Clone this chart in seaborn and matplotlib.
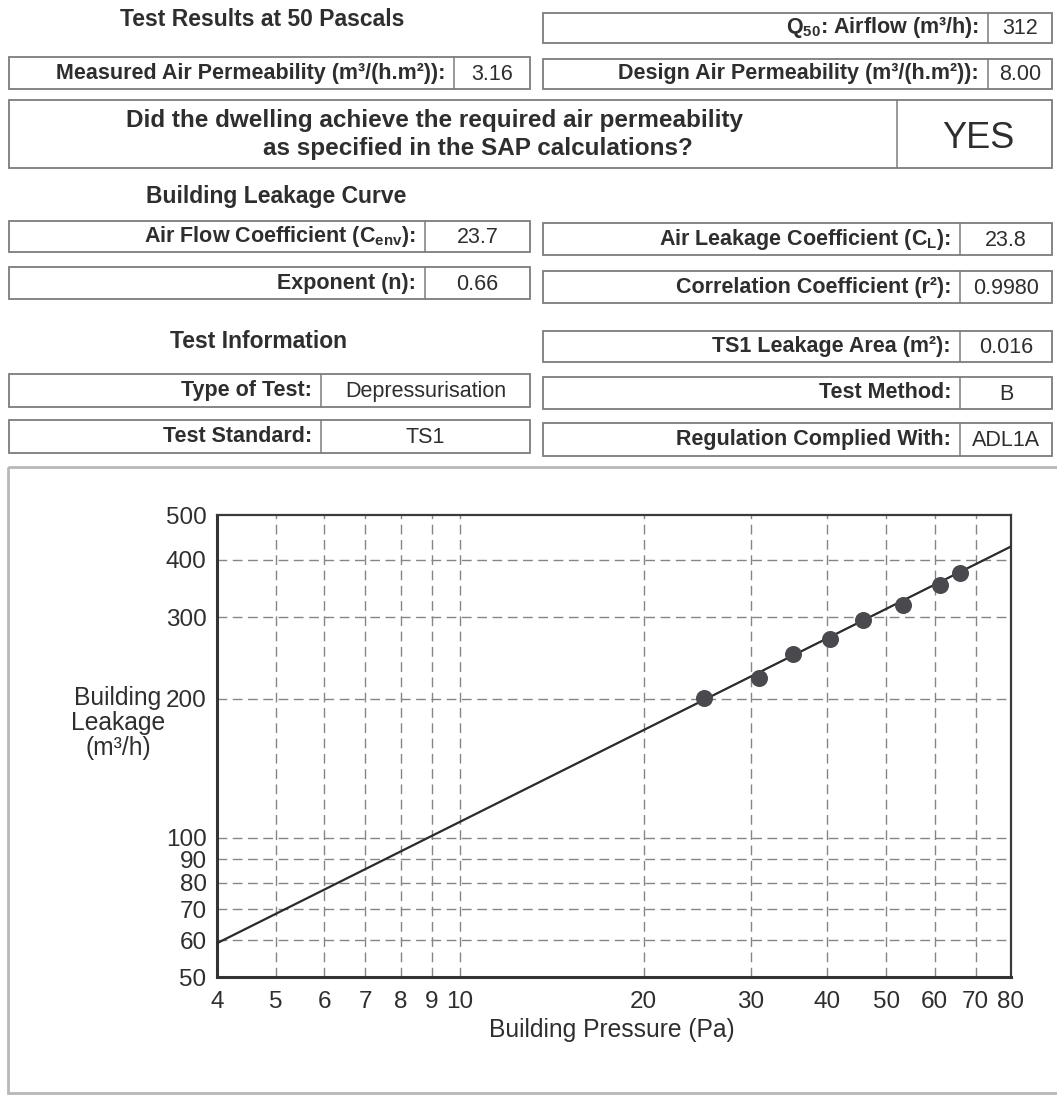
import numpy as np
import pandas as pd
import matplotlib
matplotlib.use("Agg")
import matplotlib.pyplot as plt
from matplotlib.patches import Rectangle
from matplotlib.ticker import FixedLocator, FixedFormatter, NullLocator
import seaborn as sns

# ---- measured leakage points ----
pressure_pa = [25.1, 30.9, 35.2, 40.4, 45.7, 53.3, 61.1, 66.1]
flow_m3h = [201, 222, 250, 269, 296, 320, 352, 375]

# ---- fitted leakage curve Q = C_env * P^n ----
c_env = 23.7
exponent_n = 0.66
curve_span_pa = [4, 80]

# ---- axis ticks ----
x_ticks = [4, 5, 6, 7, 8, 9, 10, 20, 30, 40, 50, 60, 70, 80]
y_ticks = [50, 60, 70, 80, 90, 100, 200, 300, 400, 500]
x_grid = [5, 6, 7, 8, 9, 10, 20, 30, 40, 50, 60, 70]
y_grid = [60, 70, 80, 90, 100, 200, 300, 400]

# ---- report headings and fields ----
headings = ["Test Results at 50 Pascals", "Building Leakage Curve", "Test Information"]
field_labels = [
    "Q$_{\\mathrm{50}}$: Airflow (m³/h):",
    "Measured Air Permeability (m³/(h.m²)):",
    "Design Air Permeability (m³/(h.m²)):",
    "Air Flow Coefficient (C$_{\\mathrm{env}}$):",
    "Air Leakage Coefficient (C$_{\\mathrm{L}}$):",
    "Exponent (n):",
    "Correlation Coefficient (r²):",
    "TS1 Leakage Area (m²):",
    "Type of Test:",
    "Test Method:",
    "Test Standard:",
    "Regulation Complied With:",
]
field_values = ["312", "3.16", "8.00", "23.7", "23.8", "0.66", "0.9980",
                "0.016", "Depressurisation", "B", "TS1", "ADL1A"]
question_lines = ["Did the dwelling achieve the required air permeability",
                  "as specified in the SAP calculations?"]
answer = "YES"
x_label = "Building Pressure (Pa)"
y_label = "Building\nLeakage\n(m³/h)"

# ---- styling ----
sns.set_theme(style="white")
plt.rcParams["font.family"] = ["Liberation Sans", "DejaVu Sans"]
plt.rcParams["mathtext.fontset"] = "custom"
plt.rcParams["mathtext.rm"] = "Liberation Sans:bold"
plt.rcParams["mathtext.it"] = "Liberation Sans:bold"
plt.rcParams["mathtext.bf"] = "Liberation Sans:bold"

INK = "#2e2e2e"
EDGE = "#7c7c7c"
W, H = 1057, 1095

fig = plt.figure(figsize=(W / 100, H / 100), dpi=100)
fig.patch.set_facecolor("white")

# full-page layer in pixel coordinates for the report boxes
page = fig.add_axes([0, 0, 1, 1], zorder=0)
page.set_xlim(0, W)
page.set_ylim(H, 0)
page.axis("off")


def field_box(x0, y0, x1, y1, div, label, value, vsize=15.5):
    page.add_patch(Rectangle((x0, y0), x1 - x0, y1 - y0, fill=False,
                             ec=EDGE, lw=1.3))
    page.plot([div, div], [y0, y1], color=EDGE, lw=1.1)
    yc = (y0 + y1) / 2
    page.text(div - 9, yc, label, ha="right", va="center", fontsize=15.5,
              fontweight="bold", color=INK)
    page.text((div + x1) / 2, yc + 1, value, ha="center", va="center",
              fontsize=vsize, color=INK)


# section headings
page.text(262, 19, headings[0], ha="center", va="center", fontsize=16.5,
          fontweight="bold", color=INK)
page.text(276, 196, headings[1], ha="center", va="center", fontsize=16.5,
          fontweight="bold", color=INK)
page.text(259, 341, headings[2], ha="center", va="center", fontsize=16.5,
          fontweight="bold", color=INK)

L0, L1 = 9, 530
R0, R1 = 543, 1052
boxes = [
    (R0, 13, R1, 43, 988),
    (L0, 57, L1, 89, 454),
    (R0, 59, R1, 89, 988),
    (L0, 221, L1, 252, 425),
    (R0, 223, R1, 255, 960),
    (L0, 267, L1, 299, 425),
    (R0, 271, R1, 303, 960),
    (R0, 331, R1, 362, 960),
    (L0, 374, L1, 407, 321),
    (R0, 377, R1, 409, 960),
    (L0, 420, L1, 453, 321),
    (R0, 423, R1, 456, 960),
]
for (x0, y0, x1, y1, div), lab, val in zip(boxes, field_labels, field_values):
    field_box(x0, y0, x1, y1, div, lab, val)

# compliance question
page.add_patch(Rectangle((L0, 100), R1 - L0, 68, fill=False, ec=EDGE, lw=1.3))
page.plot([897, 897], [100, 168], color=EDGE, lw=1.1)
page.text(435, 121, question_lines[0], ha="center", va="center",
          fontsize=17.5, fontweight="bold", color=INK)
page.text(478, 148, question_lines[1], ha="center", va="center",
          fontsize=17.5, fontweight="bold", color=INK)
page.text(978, 138, answer, ha="center", va="center", fontsize=26, color=INK)

# frame around the chart area
page.add_patch(Rectangle((8, 467), 1060, 626, fill=False, ec="#b8b8b8", lw=2))

# ---- leakage chart ----
ax_l, ax_r, ax_t, ax_b = 217, 1011, 515, 977
ax = fig.add_axes([ax_l / W, (H - ax_b) / H, (ax_r - ax_l) / W, (ax_b - ax_t) / H],
                  zorder=2)
ax.set_facecolor("none")
ax.set_xscale("log")
ax.set_yscale("log")
ax.set_xlim(4, 80)
ax.set_ylim(50, 500)

for gx in x_grid:
    ax.axvline(gx, color="#858585", lw=1.0, ls=(0, (7, 4)), zorder=1)
for gy in y_grid:
    ax.axhline(gy, color="#858585", lw=1.0, ls=(0, (7, 4)), zorder=1)

fit_p = np.geomspace(curve_span_pa[0], curve_span_pa[1], 60)
fit = pd.DataFrame({"P": fit_p, "Q": c_env * fit_p ** exponent_n})
sns.lineplot(data=fit, x="P", y="Q", ax=ax, color="#2a2a2a", lw=1.6,
             zorder=3, legend=False)

pts = pd.DataFrame({"P": pressure_pa, "Q": flow_m3h})
sns.scatterplot(data=pts, x="P", y="Q", ax=ax, s=150, color="#4a4a4e",
                edgecolor="#4a4a4e", linewidth=0, zorder=4, legend=False)

ax.xaxis.set_major_locator(FixedLocator(x_ticks))
ax.xaxis.set_major_formatter(FixedFormatter([str(v) for v in x_ticks]))
ax.xaxis.set_minor_locator(NullLocator())
ax.yaxis.set_major_locator(FixedLocator(y_ticks))
ax.yaxis.set_major_formatter(FixedFormatter([str(v) for v in y_ticks]))
ax.yaxis.set_minor_locator(NullLocator())

ax.tick_params(axis="both", which="major", direction="out", length=6,
               width=1.6, color="#333333", labelsize=17.5, labelcolor=INK)
ax.tick_params(axis="x", pad=4)
ax.tick_params(axis="y", pad=1.5)

for side in ["left", "bottom"]:
    ax.spines[side].set_visible(True)
    ax.spines[side].set_color("#333333")
    ax.spines[side].set_linewidth(2.2)
for side in ["top", "right"]:
    ax.spines[side].set_visible(True)
    ax.spines[side].set_color("#3a3a3a")
    ax.spines[side].set_linewidth(1.6)

ax.set_xlabel(x_label, fontsize=17.7, color=INK)
ax.xaxis.set_label_coords((612 - ax_l) / (ax_r - ax_l), (ax_b - 1030) / (ax_b - ax_t))
ax.xaxis.label.set_va("center")
ax.set_ylabel(y_label, fontsize=17.7, color=INK, rotation=0, ha="center",
              va="center", multialignment="center", linespacing=1.05)
ax.yaxis.set_label_coords((118 - ax_l) / (ax_r - ax_l), (ax_b - 723) / (ax_b - ax_t))

fig.savefig("out.png", dpi=100, facecolor="white")
